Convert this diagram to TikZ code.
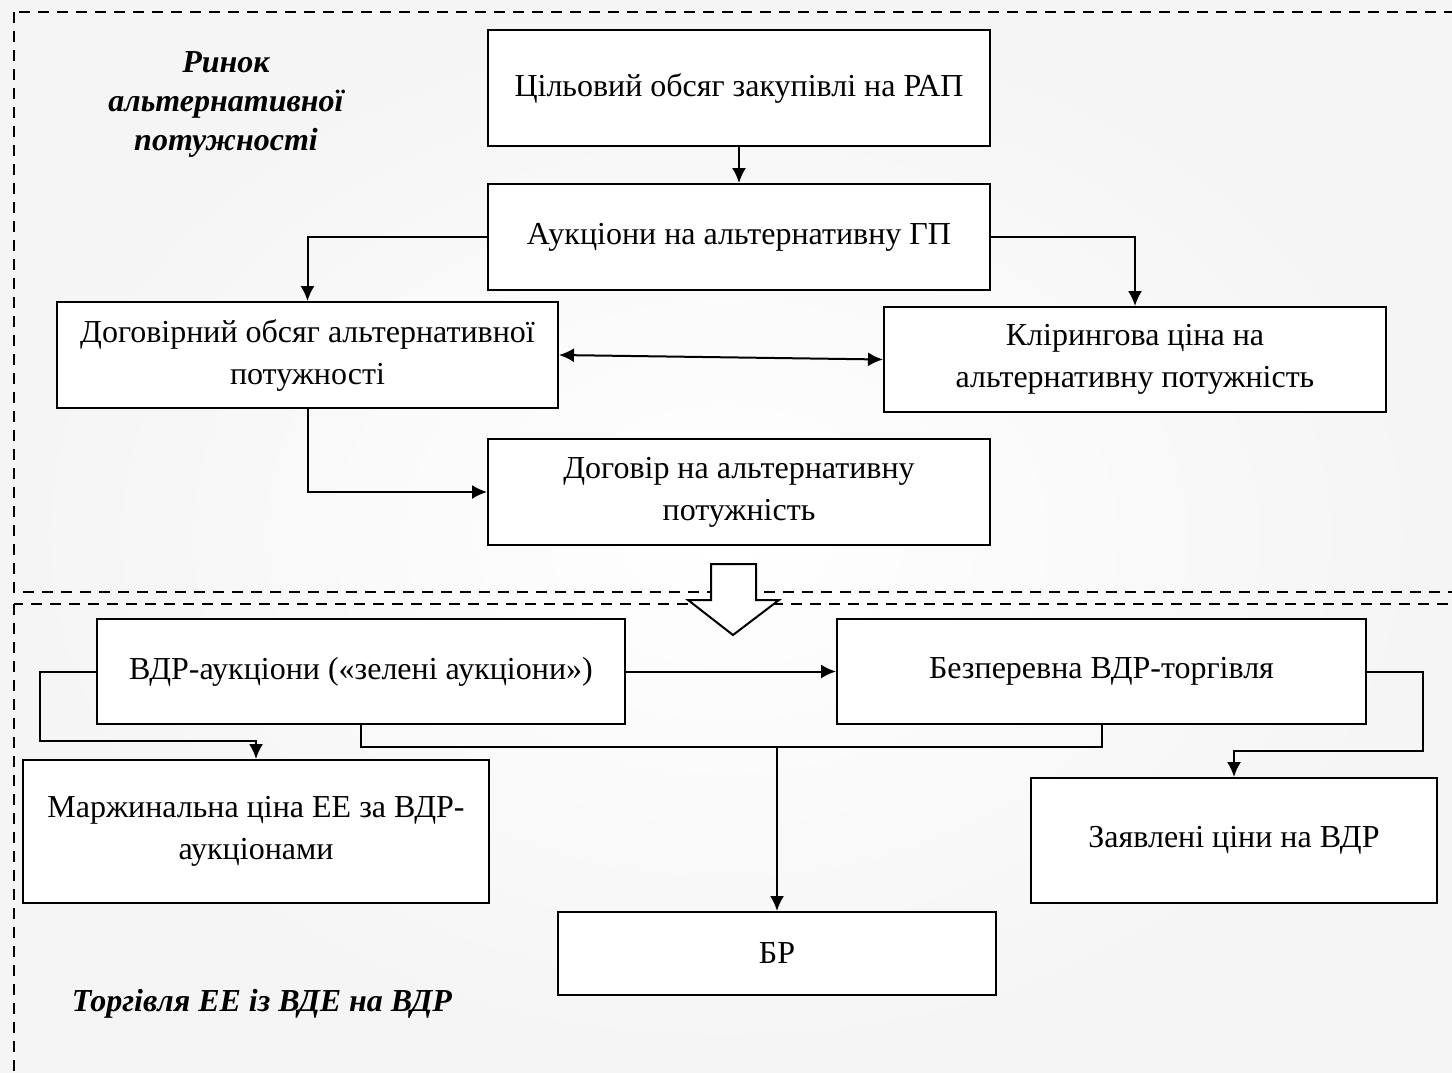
\documentclass[tikz,border=0pt]{standalone}
\usepackage{fontspec}
\setmainfont{Liberation Serif}
\usetikzlibrary{positioning,arrows.meta}

\tikzset{
  blok/.style={draw, line width=2pt, fill=white, align=center, inner sep=2pt, font=\fontsize{32}{42}\selectfont},
  lin/.style={line width=2pt},
  str/.style={line width=2pt, -{Latex[length=15pt,width=14pt]}},
  ramka/.style={line width=2pt, dash pattern=on 11pt off 8pt},
  napys/.style={font=\fontsize{32}{39}\selectfont\bfseries\itshape, align=center}
}

\begin{document}
\begin{tikzpicture}[x=1pt, y=-1pt]
\useasboundingbox (0,0) rectangle (1452,1072);
\clip (0,0) rectangle (1452,1072);
\shade[inner color=white, outer color=gray!8] (0,0) rectangle (1452,1072);

\draw[ramka] (14,12) rectangle (1475,592);
\draw[ramka] (14,604) rectangle (1475,1095);

\draw[line width=2pt, fill=white] (711,564) -- (756,564) -- (756,600) -- (779,600) -- (733,635) -- (688,600) -- (711,600) -- cycle;

\node[napys] (rynok) at (226,104) {Ринок\\альтернативної\\потужності};
\node[napys] (torg) at (262,1004) {Торгівля ЕЕ із ВДЕ на ВДР};

\node[blok, minimum width=502pt, minimum height=116pt] (cil) at (739,88) {Цільовий обсяг закупівлі на РАП};
\node[blok, minimum width=502pt, minimum height=106pt] (auk) at (739,237) {Аукціони на альтернативну ГП};
\node[blok, minimum width=501pt, minimum height=106pt] (dob) at (307.5,355) {Договірний обсяг альтернативної\\потужності};
\node[blok, minimum width=502pt, minimum height=105pt] (klir) at (1135,359.5) {Клірингова ціна на\\альтернативну потужність};
\node[blok, minimum width=502pt, minimum height=106pt] (dog) at (739,492) {Договір на альтернативну\\потужність};
\node[blok, minimum width=528pt, minimum height=105pt] (vdra) at (361,671.5) {ВДР-аукціони («зелені аукціони»)};
\node[blok, minimum width=529pt, minimum height=105pt] (bezp) at (1101.5,671.5) {Безперевна ВДР-торгівля};
\node[blok, minimum width=466pt, minimum height=143pt] (marg) at (256,831.5) {Маржинальна ціна ЕЕ за ВДР-\\аукціонами};
\node[blok, minimum width=406pt, minimum height=125pt] (zayav) at (1234,840.5) {Заявлені ціни на ВДР};
\node[blok, minimum width=438pt, minimum height=83pt] (br) at (777,953.5) {БР};

\draw[str] (cil.south) -- (auk.north);
\draw[str] (auk.west) -| (dob.north);
\draw[str] (auk.east) -| (klir.north);
\draw[str, {Latex[length=15pt,width=14pt]}-{Latex[length=15pt,width=14pt]}] (dob.east) -- (klir.west);
\draw[str] (dob.south) |- (dog.west);
\draw[str] (vdra.east) -- (bezp.west);
\draw[lin] (vdra.south) -- ++(0,22) -| (bezp.south);
\coordinate (shyna) at (777,746);
\draw[str] (shyna) -- (br.north);
\draw[str] (vdra.west) -- ++(-56,0) |- ([yshift=18pt]marg.north) -- (marg.north);
\draw[str] (bezp.east) -- ++(56,0) |- ([yshift=26pt]zayav.north) -- (zayav.north);
\end{tikzpicture}
\end{document}
